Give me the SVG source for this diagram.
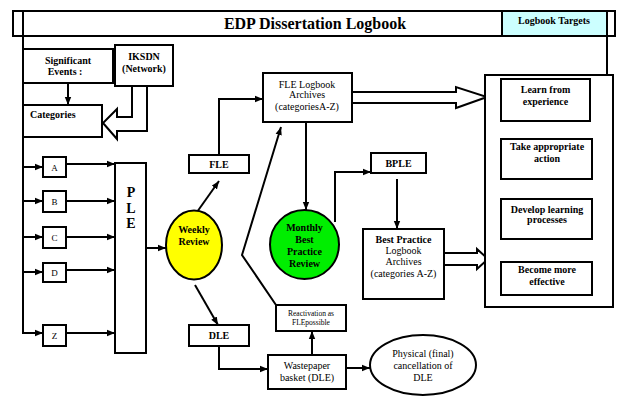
<svg xmlns="http://www.w3.org/2000/svg" width="617" height="396" viewBox="0 0 617 396" font-family="'Liberation Serif', 'Times New Roman', 'DejaVu Serif', serif">
<defs>
<marker id="ah" markerUnits="userSpaceOnUse" markerWidth="8" markerHeight="8" viewBox="0 0 8 8" refX="8" refY="4" orient="auto">
<path d="M0,0.8 L8,4 L0,7.2 Z" fill="#000"/>
</marker>
<style>
.box{fill:#fff;stroke:#000;stroke-width:2}
.ln{fill:none;stroke:#000;stroke-width:2}
.ar{fill:none;stroke:#000;stroke-width:2;marker-end:url(#ah)}
.blk{fill:#fff;stroke:#000;stroke-width:2;stroke-linejoin:miter}
text{font-family:'Liberation Serif','Times New Roman','DejaVu Serif',serif;fill:#000;text-anchor:middle}
.b{font-weight:bold;font-size:10px}
.n{font-size:10px}
</style>
</defs>
<rect width="617" height="396" fill="#fff"/>

<g id="title">
<rect class="box" x="13" y="11" width="602" height="25"/>
<line class="ln" x1="23" y1="11" x2="23" y2="36"/>
<text x="315" y="29" style="font-weight:bold;font-size:16px">EDP Dissertation  Logbook</text>
</g>
<g id="targets-header">
<rect x="502" y="11" width="105" height="25" fill="#ccffff" stroke="#000" stroke-width="2"/>
<text class="b" x="554" y="24">Logbook Targets</text>
</g>

<g id="connectors">
<polyline class="ln" points="23,36 23,333"/>
<line class="ar" x1="23" y1="167" x2="43" y2="167"/>
<line class="ar" x1="23" y1="201" x2="43" y2="201"/>
<line class="ar" x1="23" y1="237" x2="43" y2="237"/>
<line class="ar" x1="23" y1="272" x2="43" y2="272"/>
<line class="ar" x1="22" y1="333" x2="43" y2="333"/>
<line class="ar" x1="66" y1="164" x2="115" y2="164"/>
<line class="ar" x1="66" y1="201" x2="115" y2="201"/>
<line class="ar" x1="66" y1="237" x2="115" y2="237"/>
<line class="ar" x1="66" y1="270" x2="115" y2="270"/>
<line class="ar" x1="66" y1="333" x2="115" y2="333"/>
<line class="ar" x1="68" y1="84" x2="68" y2="105"/>
<path class="blk" d="M132,86 L132,117 L117,117 L117,109 L103,123 L117,139 L117,131 L147,131 L147,86 Z"/>
<line class="ar" x1="146" y1="248" x2="166" y2="248"/>
<line class="ar" x1="197" y1="212" x2="219" y2="181"/>
<polyline class="ar" points="219,155 219,99 263,99"/>
<polyline class="ar" points="276,305 242,255 281,127"/>
<path class="blk" d="M352,92 L456,92 L456,87 L487,97 L456,108 L456,103 L352,103 Z"/>
<line class="ar" x1="306" y1="122" x2="306" y2="210"/>
<polyline class="ar" points="335,222 335,172 371,172"/>
<line class="ar" x1="397" y1="179" x2="397" y2="229"/>
<path class="blk" d="M444,253 L477,253 L477,249 L488,259 L477,269 L477,265 L444,265 Z"/>
<line class="ar" x1="195" y1="285" x2="218" y2="325"/>
<polyline class="ar" points="219,346 219,369 268,369"/>
<line class="ar" x1="312" y1="355" x2="312" y2="331"/>
<line class="ar" x1="346" y1="368" x2="370" y2="368"/>
<polyline class="ln" points="607,36 607,282"/>
<line class="ar" x1="607" y1="100" x2="590" y2="100"/>
<line class="ar" x1="607" y1="163" x2="592" y2="163"/>
<line class="ar" x1="607" y1="223" x2="592" y2="223"/>
<line class="ar" x1="608" y1="282" x2="592" y2="282"/>
</g>

<g id="significant-events">
<rect class="box" x="23" y="49" width="90" height="34"/>
<text class="b" x="68" y="64">Significant</text>
<text class="b" x="65" y="75">Events :</text>
</g>
<g id="iksdn">
<rect class="box" x="115" y="45" width="58" height="41"/>
<text class="b" x="144" y="60">IKSDN</text>
<text class="b" x="144" y="72">(Network)</text>
</g>
<g id="categories">
<rect class="box" x="23" y="105" width="79" height="32"/>
<text class="b" x="30" y="118" style="text-anchor:start">Categories</text>
</g>

<g id="node-a"><rect class="box" x="43" y="157" width="23" height="20"/><text class="n" x="54.5" y="170.5" style="font-size:9px">A</text></g>
<g id="node-b"><rect class="box" x="43" y="191" width="23" height="21"/><text class="n" x="54.5" y="205" style="font-size:9px">B</text></g>
<g id="node-c"><rect class="box" x="43" y="227" width="23" height="21"/><text class="n" x="54.5" y="241" style="font-size:9px">C</text></g>
<g id="node-d"><rect class="box" x="43" y="263" width="23" height="19"/><text class="n" x="54.5" y="276" style="font-size:9px">D</text></g>
<g id="node-z"><rect class="box" x="43" y="325" width="23" height="21"/><text class="n" x="54.5" y="339" style="font-size:9px">Z</text></g>

<g id="ple">
<rect class="box" x="115" y="163" width="31" height="190"/>
<text x="131" y="197" style="font-weight:bold;font-size:14px">P</text>
<text x="131" y="213" style="font-weight:bold;font-size:14px">L</text>
<text x="131" y="228" style="font-weight:bold;font-size:14px">E</text>
</g>

<g id="weekly-review">
<ellipse cx="194" cy="245" rx="28" ry="34.5" fill="#ffff00" stroke="#000" stroke-width="2"/>
<text class="b" x="194" y="233">Weekly</text>
<text class="b" x="194" y="245">Review</text>
</g>

<g id="fle">
<rect class="box" x="189" y="155" width="60" height="18"/>
<text class="b" x="219" y="168">FLE</text>
</g>

<g id="fle-archives">
<rect class="box" x="263" y="73" width="89" height="49"/>
<text class="n" x="307" y="88">FLE Logbook</text>
<text class="n" x="307" y="98">Archives</text>
<text class="n" x="307" y="110">(categoriesA-Z)</text>
</g>

<g id="monthly-review">
<ellipse cx="304.5" cy="244.5" rx="34.5" ry="34.5" fill="#00ee00" stroke="#000" stroke-width="2"/>
<text class="b" x="304.5" y="231">Monthly</text>
<text class="b" x="304.5" y="243">Best</text>
<text class="b" x="304.5" y="255">Practice</text>
<text class="b" x="304.5" y="267">Review</text>
</g>

<g id="bple">
<rect class="box" x="371" y="153" width="55" height="20"/>
<text class="b" x="398.5" y="167">BPLE</text>
</g>

<g id="best-practice">
<rect class="box" x="363" y="229" width="81" height="70"/>
<text class="b" x="403.5" y="243">Best Practice</text>
<text class="n" x="403.5" y="253.5">Logbook</text>
<text class="n" x="403.5" y="265">Archives</text>
<text class="n" x="403.5" y="277">(categories  A-Z)</text>
</g>

<g id="targets">
<rect class="box" x="485" y="75" width="128" height="232"/>
</g>
<g id="learn">
<rect class="box" x="501" y="79" width="89" height="42"/>
<text class="b" x="545.5" y="93">Learn from</text>
<text class="b" x="545.5" y="105">experience</text>
</g>
<g id="take-action">
<rect class="box" x="501" y="139" width="91" height="40"/>
<text class="b" x="547" y="150">Take appropriate</text>
<text class="b" x="547" y="162">action</text>
</g>
<g id="develop">
<rect class="box" x="501" y="199" width="91" height="40"/>
<text class="b" x="547" y="213">Develop learning</text>
<text class="b" x="547" y="223">processes</text>
</g>
<g id="effective">
<rect class="box" x="501" y="262" width="91" height="33"/>
<text class="b" x="547" y="273">Become more</text>
<text class="b" x="547" y="285">effective</text>
</g>

<g id="dle">
<rect class="box" x="189" y="325" width="60" height="21"/>
<text class="b" x="219" y="339">DLE</text>
</g>

<g id="reactivation">
<rect class="box" x="276" y="305" width="70" height="26"/>
<text x="311" y="316" style="font-size:7.5px">Reactivation as</text>
<text x="311" y="325" style="font-size:7.5px">FLEpossible</text>
</g>

<g id="wastepaper">
<rect class="box" x="268" y="355" width="78" height="34"/>
<text class="n" x="307" y="369">Wastepaper</text>
<text class="n" x="307" y="381">basket (DLE)</text>
</g>

<g id="physical">
<ellipse cx="423" cy="365" rx="53" ry="30" fill="#fff" stroke="#000" stroke-width="2"/>
<text class="n" x="423" y="357">Physical  (final)</text>
<text class="n" x="423" y="369">cancellation  of</text>
<text class="n" x="423" y="381">DLE</text>
</g>
</svg>
